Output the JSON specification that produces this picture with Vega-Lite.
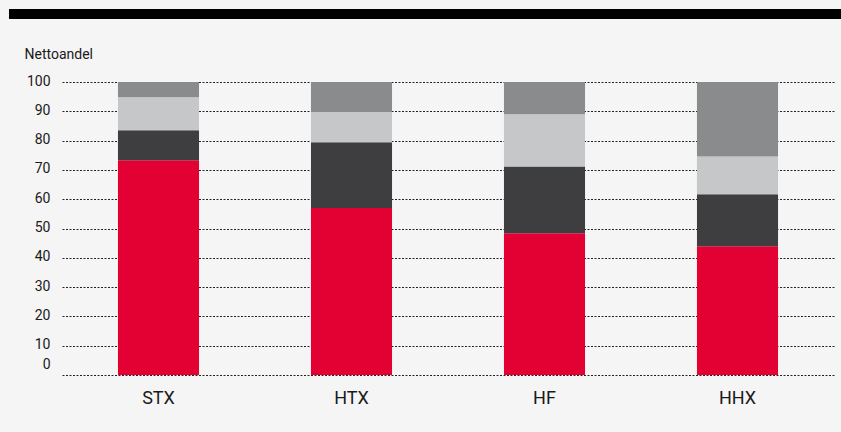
{
  "$schema": "https://vega.github.io/schema/vega-lite/v6.json",
  "background": "#f5f5f5",
  "padding": {"left": 4, "top": 9, "right": 0, "bottom": 27},
  "spacing": 28,
  "config": {
    "view": {"stroke": null},
    "font": "Roboto",
    "text": {"color": "#1a1a1a"}
  },
  "data": {
    "values": [
      {"skole": "STX", "serie": "A", "o": 1, "andel": 73.3},
      {"skole": "STX", "serie": "B", "o": 2, "andel": 10.2},
      {"skole": "STX", "serie": "C", "o": 3, "andel": 11.3},
      {"skole": "STX", "serie": "D", "o": 4, "andel": 5.2},
      {"skole": "HTX", "serie": "A", "o": 1, "andel": 57.0},
      {"skole": "HTX", "serie": "B", "o": 2, "andel": 22.4},
      {"skole": "HTX", "serie": "C", "o": 3, "andel": 10.4},
      {"skole": "HTX", "serie": "D", "o": 4, "andel": 10.2},
      {"skole": "HF", "serie": "A", "o": 1, "andel": 48.4},
      {"skole": "HF", "serie": "B", "o": 2, "andel": 22.8},
      {"skole": "HF", "serie": "C", "o": 3, "andel": 17.8},
      {"skole": "HF", "serie": "D", "o": 4, "andel": 11.0},
      {"skole": "HHX", "serie": "A", "o": 1, "andel": 43.9},
      {"skole": "HHX", "serie": "B", "o": 2, "andel": 17.8},
      {"skole": "HHX", "serie": "C", "o": 3, "andel": 12.9},
      {"skole": "HHX", "serie": "D", "o": 4, "andel": 25.4}
    ]
  },
  "vconcat": [
    {
      "width": 779,
      "height": 10,
      "view": {"fill": "#000000", "stroke": null},
      "mark": {"type": "point", "opacity": 0},
      "encoding": {
        "y": {
          "datum": 0.5,
          "type": "quantitative",
          "scale": {"domain": [0, 1], "nice": false},
          "axis": {
            "title": null,
            "values": [0.5],
            "labels": false,
            "domain": false,
            "grid": false,
            "ticks": true,
            "translate": 0,
            "tickSize": 53,
            "tickWidth": 10,
            "tickColor": "#000000",
            "tickCap": "butt",
            "minExtent": 53,
            "maxExtent": 53
          }
        }
      }
    },
    {
      "width": 772,
      "height": 293,
      "mark": {"type": "bar"},
      "encoding": {
        "x": {
          "field": "skole",
          "type": "nominal",
          "sort": ["STX", "HTX", "HF", "HHX"],
          "scale": {"paddingInner": 0.58, "paddingOuter": 0.29},
          "axis": {
            "title": null,
            "labelAngle": 0,
            "domain": false,
            "ticks": false,
            "labelFontSize": 18,
            "labelColor": "#1a1a1a",
            "labelPadding": 14,
            "labelFont": "Roboto"
          }
        },
        "y": {
          "field": "andel",
          "type": "quantitative",
          "stack": "zero",
          "scale": {"domain": [0, 100], "nice": false},
          "axis": {
            "title": "Nettoandel",
            "titleAngle": 0,
            "titleAlign": "left",
            "titleBaseline": "alphabetic",
            "titleX": -38,
            "titleY": -23.5,
            "titleFontSize": 14,
            "titleFontWeight": "normal",
            "titleColor": "#1a1a1a",
            "titleFont": "Roboto",
            "values": [0, 10, 20, 30, 40, 50, 60, 70, 80, 90, 100],
            "domain": false,
            "ticks": false,
            "labelPadding": 12,
            "labelFontSize": 14,
            "labelColor": "#1a1a1a",
            "labelFont": "Roboto",
            "labelBaseline": "middle",
            "labelOffset": {"condition": {"test": "datum.value === 0", "value": -10.5}, "value": -1},
            "minExtent": 53,
            "maxExtent": 53,
            "grid": true,
            "gridColor": "#222222",
            "gridDash": [2, 1.5],
            "gridWidth": 1,
            "gridOpacity": 1
          }
        },
        "color": {
          "field": "serie",
          "type": "nominal",
          "scale": {"domain": ["A", "B", "C", "D"], "range": ["#e30032", "#3e3e40", "#c6c7c9", "#8a8b8d"]},
          "legend": null
        },
        "order": {"field": "o", "type": "quantitative"}
      }
    }
  ]
}
